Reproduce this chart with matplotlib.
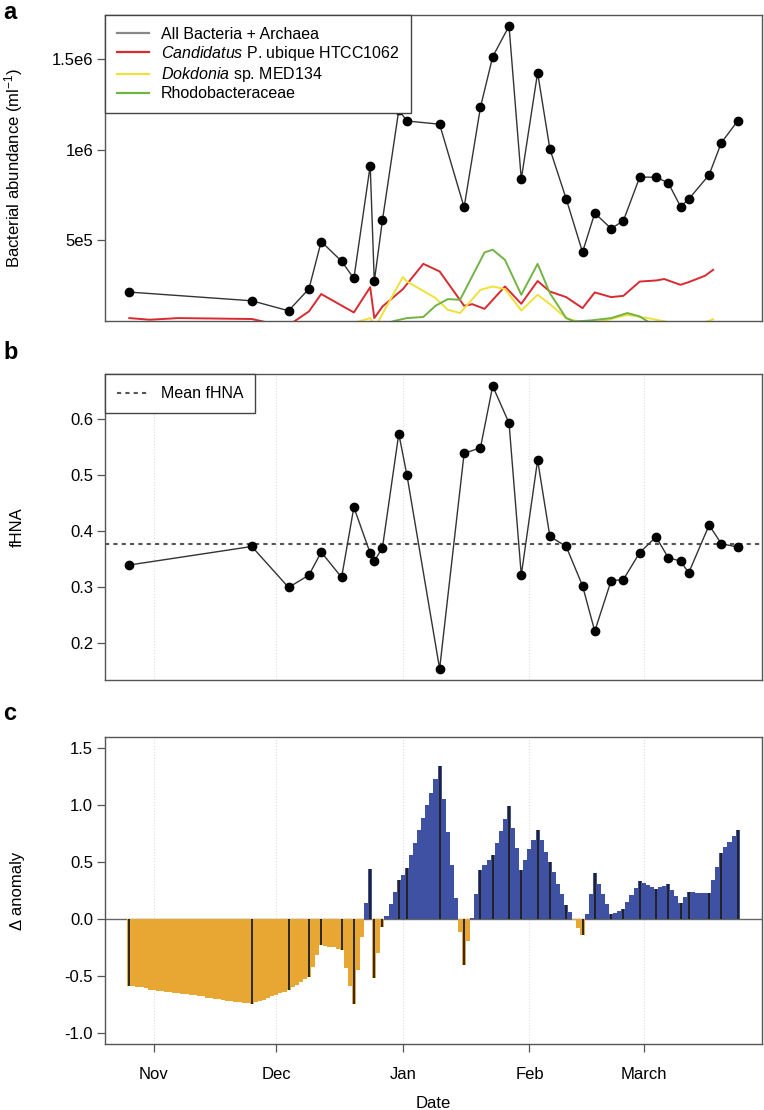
import numpy as np
import pandas as pd
import matplotlib
matplotlib.use("Agg")
import matplotlib.pyplot as plt
from matplotlib.lines import Line2D

plt.rcParams['font.family'] = ['Liberation Sans', 'DejaVu Sans']
plt.rcParams['mathtext.fontset'] = 'custom'
plt.rcParams['mathtext.rm'] = 'Liberation Sans'
plt.rcParams['mathtext.it'] = 'Liberation Sans:italic'
plt.rcParams['axes.unicode_minus'] = False
plt.rcParams['font.size'] = 12

# sampling dates (flow cytometry)
sample_dates = pd.to_datetime([
    "2012-10-26", "2012-11-25", "2012-12-04", "2012-12-09", "2012-12-12",
    "2012-12-17", "2012-12-20", "2012-12-24", "2012-12-25", "2012-12-27",
    "2012-12-31", "2013-01-02", "2013-01-10", "2013-01-16", "2013-01-20",
    "2013-01-23", "2013-01-27", "2013-01-30", "2013-02-03", "2013-02-06",
    "2013-02-10", "2013-02-14", "2013-02-17", "2013-02-21", "2013-02-24",
    "2013-02-28", "2013-03-04", "2013-03-07", "2013-03-10", "2013-03-12",
    "2013-03-17", "2013-03-20", "2013-03-24"])

abundance = [213800, 165700, 110500, 232000, 493400, 384100, 289000, 913300,
             272400, 611600, 1220000, 1160000, 1142000, 682300, 1236000,
             1515000, 1685000, 838100, 1427000, 1005500, 729300, 434800,
             650300, 565200, 607700, 849200, 849200, 817700, 686700, 727600,
             861900, 1040000, 1160000]

fhna = [0.339, 0.372, 0.299, 0.321, 0.362, 0.317, 0.442, 0.360, 0.346, 0.370,
        0.573, 0.499, 0.154, 0.538, 0.548, 0.658, 0.592, 0.321, 0.526, 0.390,
        0.372, 0.302, 0.221, 0.311, 0.313, 0.361, 0.389, 0.352, 0.346, 0.325,
        0.410, 0.377, 0.371]
mean_fhna = 0.377

# taxon-specific abundances
pel_dates = pd.to_datetime([
    "2012-10-26", "2012-10-31", "2012-11-07", "2012-11-25", "2012-11-30",
    "2012-12-04", "2012-12-09", "2012-12-12", "2012-12-20", "2012-12-24",
    "2012-12-25", "2012-12-27", "2013-01-01", "2013-01-06", "2013-01-10",
    "2013-01-16", "2013-01-18", "2013-01-21", "2013-01-26", "2013-01-30",
    "2013-02-03", "2013-02-06", "2013-02-10", "2013-02-14", "2013-02-17",
    "2013-02-21", "2013-02-24", "2013-02-28", "2013-03-04", "2013-03-06",
    "2013-03-10", "2013-03-12", "2013-03-16", "2013-03-18"])
pel_vals = [70000, 61000, 70000, 65000, 40000, 30000, 107000, 203000, 101000,
            241000, 70000, 134000, 230000, 370000, 328000, 138000, 147000,
            121000, 245000, 149000, 275000, 217000, 186000, 125000, 212000,
            186000, 193000, 272000, 278000, 286000, 254000, 269000, 304000,
            337000]

dok_dates = pd.to_datetime([
    "2012-12-21", "2012-12-24", "2012-12-25", "2012-12-26", "2013-01-01",
    "2013-01-02", "2013-01-09", "2013-01-12", "2013-01-15", "2013-01-20",
    "2013-01-23", "2013-01-26", "2013-01-30", "2013-02-03", "2013-02-06",
    "2013-02-10", "2013-02-13", "2013-02-16", "2013-02-21", "2013-02-25",
    "2013-03-02", "2013-03-07", "2013-03-12", "2013-03-17", "2013-03-18"])
dok_vals = [50000, 70000, 30000, 52000, 297000, 272000, 181000, 116000, 98000,
            226000, 245000, 230000, 112000, 199000, 147000, 70000, 51000,
            40000, 65000, 88000, 70000, 48000, 20000, 55000, 64000]

rho_dates = pd.to_datetime([
    "2012-12-28", "2012-12-30", "2013-01-02", "2013-01-06", "2013-01-09",
    "2013-01-12", "2013-01-15", "2013-01-21", "2013-01-23", "2013-01-26",
    "2013-01-30", "2013-02-03", "2013-02-06", "2013-02-10", "2013-02-12",
    "2013-02-16", "2013-02-21", "2013-02-25", "2013-02-28", "2013-03-02",
    "2013-03-03"])
rho_vals = [40000, 55000, 70000, 76000, 138000, 175000, 171000, 433000, 448000,
            392000, 199000, 370000, 208000, 70000, 51000, 57000, 70000, 98000,
            79000, 51000, 30000]

# daily delta anomaly, 2012-10-26 .. 2013-03-24
anomaly = [-0.59, -0.59, -0.60, -0.60, -0.61, -0.62, -0.62, -0.63, -0.63, -0.64,
           -0.64, -0.65, -0.65, -0.66, -0.66, -0.67, -0.67, -0.68, -0.68, -0.69,
           -0.69, -0.70, -0.70, -0.71, -0.72, -0.72, -0.73, -0.73, -0.74, -0.74,
           -0.75, -0.73, -0.72, -0.71, -0.69, -0.68, -0.67, -0.65, -0.64, -0.62,
           -0.60, -0.58, -0.55, -0.53, -0.51, -0.42, -0.32, -0.23, -0.24, -0.25,
           -0.25, -0.26, -0.27, -0.43, -0.59, -0.75, -0.45, -0.16, 0.14, 0.44,
           -0.52, -0.30, -0.07, 0.03, 0.13, 0.24, 0.34, 0.39, 0.45, 0.56,
           0.67, 0.78, 0.89, 1.00, 1.11, 1.23, 1.34, 1.05, 0.76, 0.47,
           0.18, -0.11, -0.40, -0.19, 0.01, 0.22, 0.43, 0.47, 0.52, 0.56,
           0.67, 0.77, 0.88, 0.99, 0.80, 0.62, 0.43, 0.52, 0.61, 0.69,
           0.78, 0.69, 0.59, 0.50, 0.41, 0.31, 0.22, 0.12, 0.06, -0.01,
           -0.08, -0.14, 0.04, 0.22, 0.40, 0.31, 0.22, 0.13, 0.04, 0.05,
           0.07, 0.09, 0.15, 0.21, 0.27, 0.33, 0.32, 0.30, 0.28, 0.26,
           0.28, 0.29, 0.31, 0.25, 0.20, 0.14, 0.19, 0.24, 0.24, 0.23,
           0.23, 0.23, 0.23, 0.34, 0.46, 0.58, 0.63, 0.68, 0.73, 0.78]
anom_dates = pd.date_range("2012-10-26", periods=len(anomaly), freq="D")

month_ticks = pd.to_datetime(["2012-11-01", "2012-12-01", "2013-01-01",
                              "2013-02-01", "2013-03-01"])
month_labels = ["Nov", "Dec", "Jan", "Feb", "March"]

col_red = "#D92A30"
col_yel = "#EEE23A"
col_grn = "#72B443"
col_neg = "#E8A632"
col_pos = "#3F51A3"

fig = plt.figure(figsize=(7.64, 11.10), dpi=100)
ax1 = fig.add_axes([0.1374, 0.7104, 0.8600, 0.2761])
ax2 = fig.add_axes([0.1374, 0.3874, 0.8600, 0.2754])
ax3 = fig.add_axes([0.1374, 0.0592, 0.8600, 0.2771])

pad = pd.Timedelta(days=5.96)
xlim = (sample_dates[0] - pad, sample_dates[-1] + pad)

for ax in (ax1, ax2, ax3):
    for s in ax.spines.values():
        s.set_color("#555555")
        s.set_linewidth(1.0)
    ax.tick_params(direction="out", length=5.5, width=0.9, color="#555555",
                   labelsize=12, pad=3)
    ax.set_xlim(*xlim)
    ax.set_xticks(month_ticks)
    ax.set_xticklabels([])

# --- panel a
ax1.plot(pel_dates, pel_vals, color=col_red, lw=1.4)
ax1.plot(dok_dates, dok_vals, color=col_yel, lw=1.4)
ax1.plot(rho_dates, rho_vals, color=col_grn, lw=1.4)
ax1.plot(sample_dates, abundance, color="#333333", lw=1.0, marker="o",
         markersize=6, markerfacecolor="black", markeredgecolor="black")
ax1.set_ylim(51400, 1746000)
ax1.set_yticks([5e5, 1e6, 1.5e6])
ax1.set_yticklabels(["5e5", "1e6", "1.5e6"])
ax1.tick_params(axis="x", length=0)
ax1.set_ylabel("Bacterial abundance (ml$^{-1}$)", fontsize=12)
ax1.yaxis.set_label_coords(-0.122, 0.5)
handles = [Line2D([], [], color="#888888", lw=1.6),
           Line2D([], [], color=col_red, lw=1.6),
           Line2D([], [], color=col_yel, lw=1.6),
           Line2D([], [], color=col_grn, lw=1.6)]
labels = ["All Bacteria + Archaea", r"$\it{Candidatus}$ P. ubique HTCC1062",
          r"$\it{Dokdonia}$ sp. MED134", "Rhodobacteraceae"]
leg = ax1.legend(handles, labels, loc="upper left", bbox_to_anchor=(0, 1),
                 borderaxespad=0, fancybox=False, framealpha=1,
                 edgecolor="#444444", handlelength=2.0, handletextpad=0.75,
                 labelspacing=0.13, borderpad=0.75, fontsize=11.5)
leg.get_frame().set_linewidth(1.0)

# --- panel b
for t in month_ticks:
    ax2.axvline(t, color="#dddddd", lw=0.8, ls=":", zorder=0)
ax2.axhline(mean_fhna, color="#555555", lw=1.5, ls=(0, (2, 2)),
            label="Mean fHNA")
ax2.plot(sample_dates, fhna, color="#333333", lw=1.0, marker="o",
         markersize=6, markerfacecolor="black", markeredgecolor="black")
ax2.set_ylim(0.134, 0.679)
ax2.set_yticks([0.2, 0.3, 0.4, 0.5, 0.6])
ax2.set_yticklabels(["0.2", "0.3", "0.4", "0.5", "0.6"])
ax2.tick_params(axis="x", length=0)
ax2.set_ylabel("fHNA", fontsize=12)
ax2.yaxis.set_label_coords(-0.122, 0.5)
leg2 = ax2.legend(loc="upper left", bbox_to_anchor=(0, 1), borderaxespad=0,
                  fancybox=False, framealpha=1, edgecolor="#444444",
                  handlelength=2.0, handletextpad=0.75, borderpad=0.75,
                  fontsize=11.5)
leg2.get_frame().set_linewidth(1.0)

# --- panel c
for t in month_ticks:
    ax3.axvline(t, color="#dddddd", lw=0.8, ls=":", zorder=0)
anom = pd.Series(anomaly, index=anom_dates)
bar_cols = [col_pos if v > 0 else col_neg for v in anomaly]
ax3.bar(anom_dates, anomaly, width=1.0, color=bar_cols, linewidth=0,
        zorder=2)
samp_anom = anom.loc[sample_dates].values
ax3.vlines(sample_dates, 0, samp_anom, color="#1e1e1e", lw=1.3, zorder=3)
ax3.axhline(0, color="#666666", lw=1.0, zorder=1)
ax3.set_ylim(-1.1, 1.6)
yt = [-1.0, -0.5, 0.0, 0.5, 1.0, 1.5]
ax3.set_yticks(yt)
ax3.set_yticklabels(["%.1f" % v for v in yt])
ax3.set_xticklabels(month_labels)
ax3.tick_params(axis="x", pad=11)
ax3.set_ylabel("\u0394 anomaly", fontsize=12)
ax3.yaxis.set_label_coords(-0.122, 0.5)
ax3.set_xlabel("Date", fontsize=12, labelpad=10)

fig.text(0.004, 0.999, "a", fontsize=17, fontweight="bold", va="top")
fig.text(0.004, 0.693, "b", fontsize=17, fontweight="bold", va="top")
fig.text(0.004, 0.368, "c", fontsize=17, fontweight="bold", va="top")

fig.savefig("out.png", dpi=100)
